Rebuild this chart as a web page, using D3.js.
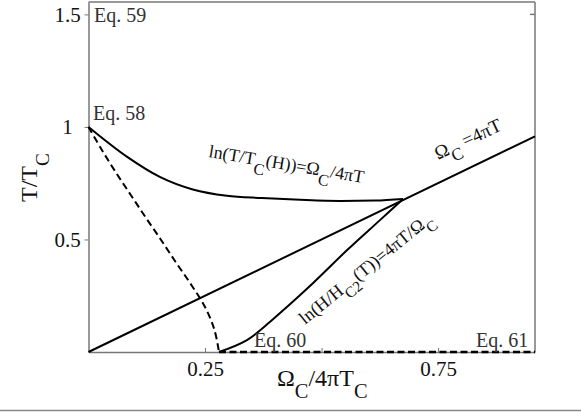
<!DOCTYPE html>
<html><head><meta charset="utf-8">
<script src="https://cdn.jsdelivr.net/npm/d3@7"></script>
<style>body{margin:0;background:#fff}svg{display:block}text{font-family:"Liberation Serif","Times New Roman",serif}</style>
</head><body>
<svg id="c" width="581" height="412"></svg>
<script>
// Data
const xTicks = [0.25, 0.5, 0.75];
const xTickLabels = ["0.25", "", "0.75"];
const yTicks = [0.5, 1, 1.5];
const yTickLabels = ["0.5", "1", "1.5"];
const diagX = [0, 0.958];
const diagT = [0, 0.958];
const upperX = [0, 0.083, 0.153, 0.224, 0.297, 0.372, 0.454, 0.540, 0.615, 0.675];
const upperT = [1.0, 0.867, 0.778, 0.722, 0.694, 0.684, 0.676, 0.671, 0.673, 0.68];
const dashX = [0, 0.028, 0.058, 0.09, 0.122, 0.155, 0.187, 0.22, 0.25, 0.27, 0.28];
const dashT = [1, 0.9, 0.8, 0.7, 0.6, 0.5, 0.4, 0.3, 0.2, 0.1, 0];
const lowX = [0.28, 0.34, 0.389, 0.411, 0.482, 0.555, 0.626, 0.675];
const lowT = [0, 0.053, 0.133, 0.173, 0.307, 0.453, 0.587, 0.68];
const baseX = [0.28, 0.958];
const baseT = [0, 0];

const svg = d3.select("#c");
const x = d3.scaleLinear().domain([0, 0.958]).range([88.5, 535]);
const y = d3.scaleLinear().domain([0, 1.555]).range([352, 2]);
const zip = (a, b) => a.map((v, i) => [v, b[i]]);
const line = d3.line().x(d => x(d[0])).y(d => y(d[1])).curve(d3.curveMonotoneX);
const smooth = d3.line().x(d => x(d[0])).y(d => y(d[1])).curve(d3.curveCatmullRom.alpha(0.5));

// frame: top and right
const axCol = "#777";
svg.append("line").attr("x1", x(0)).attr("x2", x(0.958)).attr("y1", y(1.555)).attr("y2", y(1.555)).attr("stroke", axCol).attr("stroke-width", 1.5);
svg.append("line").attr("x1", x(0.958)).attr("x2", x(0.958)).attr("y1", y(1.555)).attr("y2", y(0)).attr("stroke", axCol).attr("stroke-width", 1.5);
svg.append("line").attr("x1", x(0.958) - 5).attr("x2", x(0.958)).attr("y1", y(1.5)).attr("y2", y(1.5)).attr("stroke", axCol).attr("stroke-width", 1.5);

// axes
const xAxis = d3.axisBottom(x).tickValues(xTicks).tickFormat((d, i) => xTickLabels[i]).tickSizeInner(-4).tickSizeOuter(0).tickPadding(9);
const gx = svg.append("g").attr("transform", `translate(0,${y(0)})`).call(xAxis);
gx.select(".domain").attr("stroke", axCol).attr("stroke-width", 1.5);
gx.selectAll(".tick line").attr("stroke", axCol);
gx.selectAll(".tick text").attr("font-size", 21).attr("fill", "#111").attr("font-family", "Liberation Serif");

const yAxis = d3.axisLeft(y).tickValues(yTicks).tickFormat((d, i) => yTickLabels[i]).tickSizeInner(4).tickSizeOuter(0).tickPadding(17);
const gy = svg.append("g").attr("transform", `translate(${x(0)},0)`).call(yAxis);
gy.select(".domain").attr("stroke", axCol).attr("stroke-width", 1.5);
gy.selectAll(".tick line").attr("stroke", axCol);
gy.selectAll(".tick text").attr("font-size", 21).attr("fill", "#111").attr("font-family", "Liberation Serif").attr("text-anchor", "middle");

// curves
svg.append("path").attr("d", line(zip(diagX, diagT))).attr("fill", "none").attr("stroke", "#000").attr("stroke-width", 2);
svg.append("path").attr("d", line(zip(upperX, upperT))).attr("fill", "none").attr("stroke", "#000").attr("stroke-width", 2);
svg.append("path").attr("d", smooth(zip(lowX, lowT))).attr("fill", "none").attr("stroke", "#000").attr("stroke-width", 2);
svg.append("path").attr("d", smooth(zip(dashX, dashT))).attr("fill", "none").attr("stroke", "#000").attr("stroke-width", 2).attr("stroke-dasharray", "7,4");
svg.append("path").attr("d", line(zip(baseX, baseT))).attr("fill", "none").attr("stroke", "#000").attr("stroke-width", 2.5).attr("stroke-dasharray", "7,3.5");

// separator line at bottom
svg.append("line").attr("x1", 0).attr("x2", 581).attr("y1", 410.5).attr("y2", 410.5).attr("stroke", "#888").attr("stroke-width", 1.5);

// rich text helper: parts [text, isSub]
function rich(g, parts, size, subScale, shift) {
  const t = g.append("text").attr("font-size", size).attr("fill", "#111");
  let prevSub = false;
  parts.forEach(([s, sub]) => {
    const ts = t.append("tspan").text(s);
    if (sub) ts.attr("font-size", size * subScale);
    if (sub && !prevSub) ts.attr("dy", size * shift);
    else if (!sub && prevSub) ts.attr("dy", -size * shift);
    prevSub = sub;
  });
  return t;
}

// axis titles
rich(svg.append("g").attr("transform", "translate(277,386)"), [["Ω", 0], ["C", 1], ["/4πT", 0], ["C", 1]], 24, 0.85, 0.5);
rich(svg.append("g").attr("transform", "translate(37,202) rotate(-90)"), [["T/T", 0], ["C", 1]], 24, 0.8, 0.5);

// annotations
const eq = (s, tx, ty) => svg.append("text").attr("x", tx).attr("y", ty).attr("font-size", 20).attr("fill", "#333").text(s);
eq("Eq. 59", 94, 22);
eq("Eq. 58", 93, 120);
eq("Eq. 60", 254, 347);
eq("Eq. 61", 476, 347);

rich(svg.append("g").attr("transform", "translate(208,157) rotate(9.5)"), [["ln(T/T", 0], ["C", 1], ["(H))=Ω", 0], ["C", 1], ["/4πT", 0]], 18, 0.9, 0.5);
rich(svg.append("g").attr("transform", "translate(438,160) rotate(-25)"), [["Ω", 0], ["C", 1], [" =4πT", 0]], 19, 0.9, 0.45);
rich(svg.append("g").attr("transform", "translate(305,325) rotate(-39)"), [["ln(H/H", 0], ["C2", 1], ["(T))=4πT/Ω", 0], ["C", 1]], 18, 0.85, 0.45);
</script>
</body></html>
